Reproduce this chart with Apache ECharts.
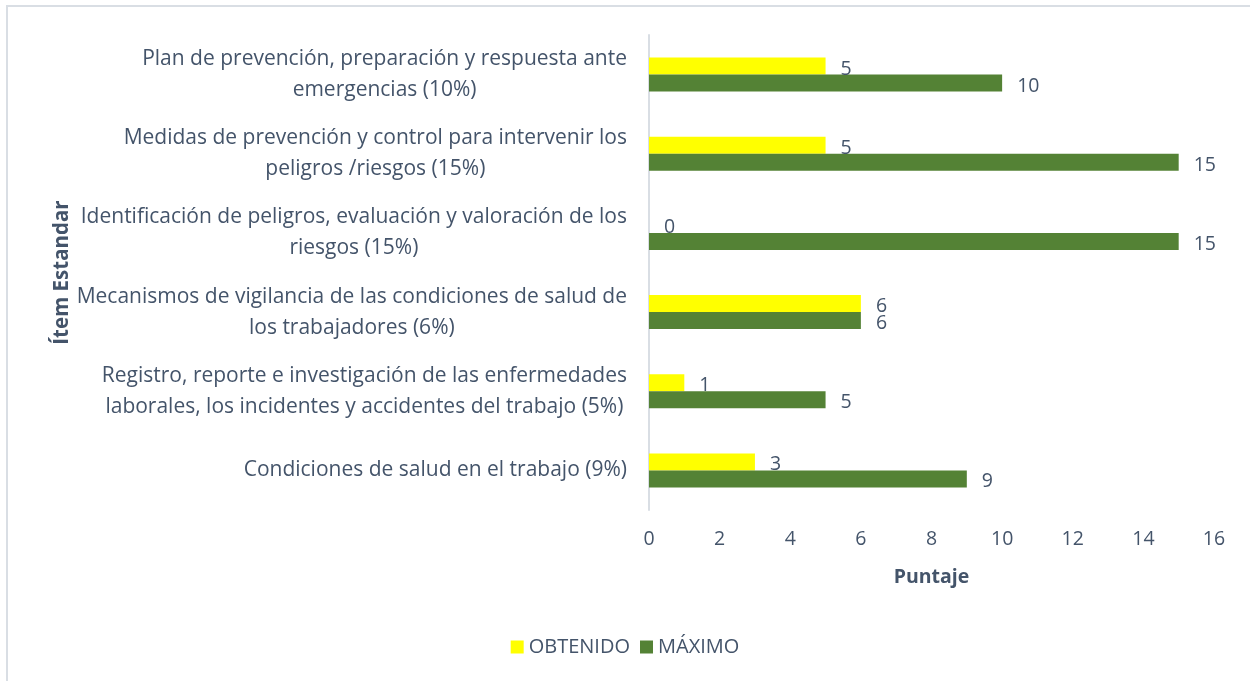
<!DOCTYPE html>
<html><head><meta charset="utf-8">
<script src="https://cdn.jsdelivr.net/npm/echarts@6/dist/echarts.min.js"></script>
<style>html,body{margin:0;padding:0;background:#fff}#c{width:1250px;height:681px}</style>
</head><body><div id="c"></div>
<script>
const categories = [
  "Condiciones de salud en el trabajo (9%)",
  "Registro, reporte e investigación de las enfermedades\nlaborales, los incidentes y accidentes del trabajo (5%)",
  "Mecanismos de vigilancia de las condiciones de salud de\nlos trabajadores (6%)",
  "Identificación de peligros, evaluación y valoración de los\nriesgos (15%)",
  "Medidas de prevención y control para intervenir los\npeligros /riesgos (15%)",
  "Plan de prevención, preparación y respuesta ante\nemergencias (10%)"
];
const obtenido = [3, 1, 6, 0, 5, 5];
const maximo = [9, 5, 6, 15, 15, 10];
const seriesNames = ["OBTENIDO", "MÁXIMO"];

const FONT = "Open Sans";
const FS = 21;
const TXT = "#44546A";
const chart = echarts.init(document.getElementById('c'));
chart.setOption({
  animation: false,
  textStyle: { fontFamily: FONT },
  graphic: [{ type: 'rect', shape: { x: 7, y: 6, width: 1270, height: 700 }, style: { fill: 'none', stroke: '#D9DEE4', lineWidth: 2 }, silent: true }],
  grid: { left: 649, right: 36, top: 35, bottom: 171 },
  legend: {
    bottom: 19, left: 'center', itemWidth: 13, itemHeight: 13, itemGap: 10,
    icon: 'rect',
    textStyle: { color: TXT, fontSize: 20, fontFamily: FONT },
    data: seriesNames
  },
  xAxis: {
    type: 'value', min: 0, max: 16, interval: 2,
    name: 'Puntaje', nameLocation: 'middle', nameGap: 57,
    nameTextStyle: { color: TXT, fontSize: 19.5, fontWeight: 'bold', fontFamily: FONT },
    axisLine: { show: false }, axisTick: { show: false }, splitLine: { show: false },
    axisLabel: { color: TXT, fontSize: 19.5, margin: 19, fontFamily: FONT }
  },
  yAxis: {
    type: 'category', data: categories,
    name: 'Ítem Estandar', nameLocation: 'middle', nameGap: 576, nameRotate: 90,
    nameTextStyle: { color: TXT, fontSize: 20.5, fontWeight: 'bold', fontFamily: FONT, padding: [0, 0, 0, 0] },
    axisLine: { show: true, lineStyle: { color: '#D9DEE4', width: 2 } },
    axisTick: { show: false },
    axisLabel: {
      color: TXT, fontSize: FS, margin: 22, lineHeight: 31, align: 'right', fontFamily: FONT,
      formatter: v => v.split('\n').map(l => '{c|' + l + '}').join('\n'),
      rich: { c: { align: 'center', color: TXT, fontSize: FS, lineHeight: 31, fontFamily: FONT } }
    }
  },
  series: [
    { name: seriesNames[0], type: 'bar', data: obtenido, barWidth: 17, barGap: '0%',
      itemStyle: { color: '#FFFF00' },
      label: { show: true, position: 'right', distance: 15, offset: [0, 3], color: TXT, fontSize: 19.5, fontFamily: FONT } },
    { name: seriesNames[1], type: 'bar', data: maximo, barWidth: 17, barGap: '0%',
      itemStyle: { color: '#548235' },
      label: { show: true, position: 'right', distance: 15, offset: [0, 3], color: TXT, fontSize: 19.5, fontFamily: FONT } }
  ]
});
</script></body></html>
